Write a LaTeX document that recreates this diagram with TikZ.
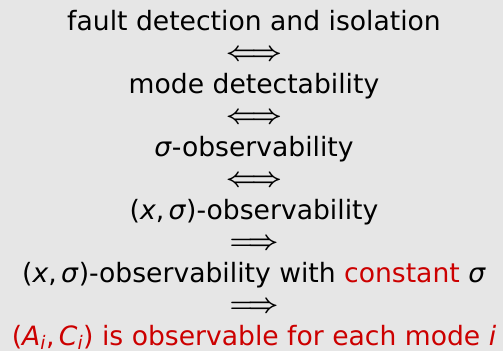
\documentclass[tikz,border=0pt]{standalone}
\usepackage{fontspec}
\setmainfont{DejaVu Sans}
\usepackage{fix-cm}
\usepackage{xcolor}
\usetikzlibrary{positioning}
\definecolor{slidegray}{HTML}{E6E6E6}
\definecolor{alertred}{HTML}{CC0000}
\newcommand{\vsym}[1]{\textit{#1}}
\newcommand{\iffarrow}{{\boldmath$\Longleftrightarrow$}}
\newcommand{\imparrow}{{\boldmath$\Longrightarrow$}}

\begin{document}
\begin{tikzpicture}[every node/.style={font=\fontsize{26.6}{30}\selectfont, inner sep=0pt}]
  \useasboundingbox[fill=slidegray] (0,0) rectangle (503pt,-351pt);
  \node[anchor=base] (fdi) at (254pt,-30pt) {fault detection and isolation};
  \node[below=30pt of fdi.base, anchor=base] (a1) {\iffarrow};
  \node[below=33pt of a1.base, anchor=base] (mdet) {mode detectability};
  \node[below=30pt of mdet.base, anchor=base] (a2) {\iffarrow};
  \node[below=33pt of a2.base, anchor=base] (sobs) {\vsym{σ}-observability};
  \node[below=30pt of sobs.base, anchor=base] (a3) {\iffarrow};
  \node[below=33pt of a3.base, anchor=base] (xsobs) {(\vsym{x},\,\vsym{σ})-observability};
  \node[below=30pt of xsobs.base, anchor=base] (a4) {\imparrow};
  \node[below=33pt of a4.base, anchor=base] (cobs) {(\vsym{x},\,\vsym{σ})-observability with \textcolor{alertred}{constant} \vsym{σ}};
  \node[below=30pt of cobs.base, anchor=base] (a5) {\imparrow};
  \node[below=33pt of a5.base, anchor=base, text=alertred] (pair) {(\vsym{A}\textsubscript{\vsym{i}},\,\vsym{C}\textsubscript{\vsym{i}}) is observable for each mode \vsym{i}};
\end{tikzpicture}
\end{document}
